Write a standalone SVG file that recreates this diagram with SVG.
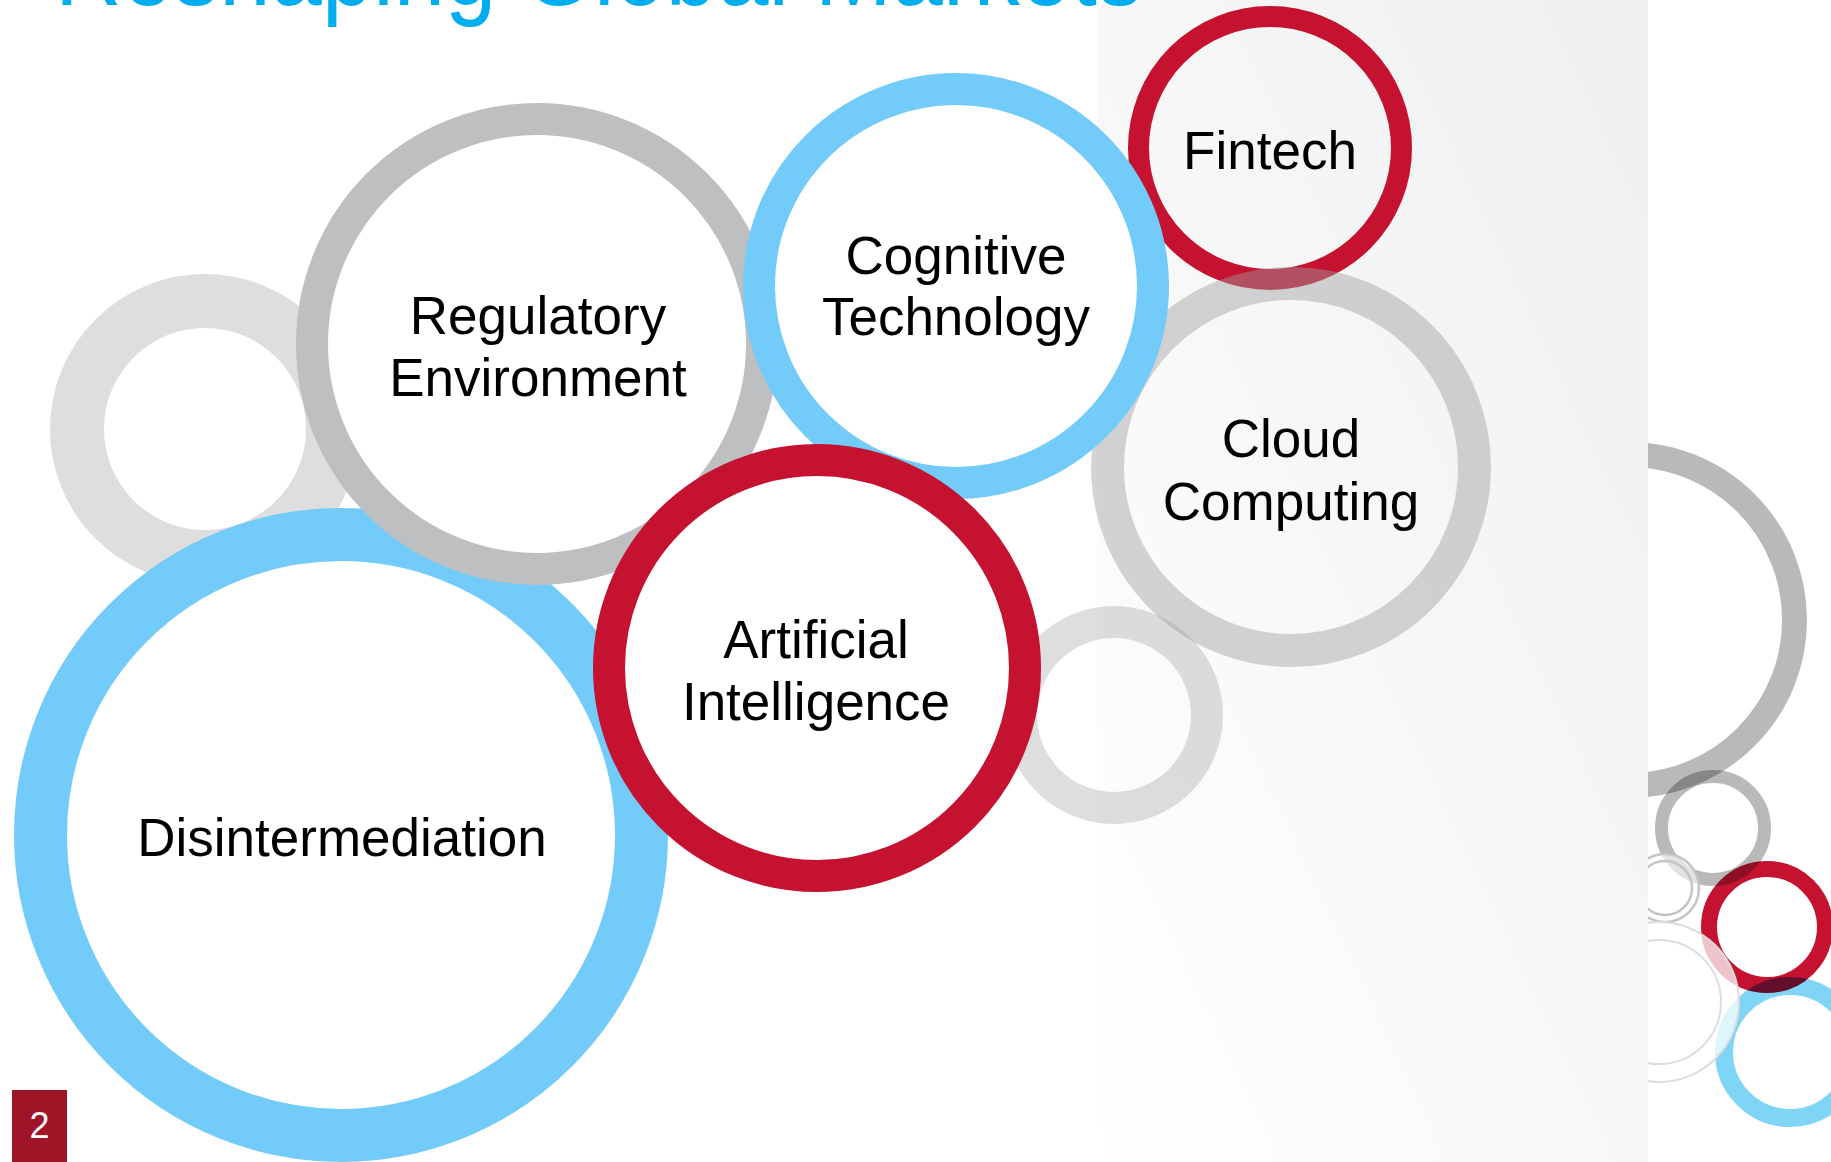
<svg xmlns="http://www.w3.org/2000/svg" width="1831" height="1162" viewBox="0 0 1831 1162">
  <style>
    .lbl { font-family: "Liberation Sans", Arial, sans-serif; font-size: 53px; fill: #000000; text-anchor: middle; }
    .ring { fill: none; }
    .solid { fill: #ffffff; }
    .red { stroke: #c41230; }
    .blue { stroke: #72cbf8; }
    .mul { mix-blend-mode: multiply; }
  </style>
  <defs>
    <linearGradient id="panelGrad" x1="0" y1="1" x2="1" y2="0">
      <stop offset="0" stop-color="#ffffff"/>
      <stop offset="0.45" stop-color="#f8f8f8"/>
      <stop offset="1" stop-color="#eeefef"/>
    </linearGradient>
    <clipPath id="rightClip">
      <rect x="1648" y="0" width="183" height="1162"/>
    </clipPath>
  </defs>

  <rect x="0" y="0" width="1831" height="1162" fill="#ffffff"/>
  <rect id="panel" x="1097" y="0" width="551" height="1162" fill="url(#panelGrad)"/>

  <text x="55" y="5" font-family="Liberation Sans, Arial, sans-serif" font-size="108" fill="#00aeef" textLength="1088" lengthAdjust="spacingAndGlyphs">Reshaping Global Markets</text>

  <g id="deco-left-ring">
    <circle cx="205" cy="429" r="128" fill="#ffffff" stroke="#dedede" stroke-width="54"/>
  </g>

  <g id="node-disintermediation">
    <circle cx="341" cy="835" r="300.5" class="solid blue" stroke-width="53"/>
    <text class="lbl" x="342" y="856">Disintermediation</text>
  </g>

  <g id="node-regulatory">
    <circle cx="537" cy="344" r="225" class="solid" stroke="#bebfc1" stroke-width="32"/>
    <text class="lbl" x="538" y="334">Regulatory</text>
    <text class="lbl" x="538" y="396">Environment</text>
  </g>

  <g id="node-fintech">
    <circle cx="1270" cy="148" r="131.5" class="ring red" stroke-width="21"/>
    <text class="lbl" x="1270" y="169">Fintech</text>
  </g>

  <g id="node-cloud">
    <circle cx="1291" cy="467" r="183.5" class="ring" stroke="#a0a0a0" stroke-opacity="0.45" stroke-width="33"/>
    <text class="lbl" x="1291" y="457">Cloud</text>
    <text class="lbl" x="1291" y="520">Computing</text>
  </g>

  <g id="deco-small-ring">
    <circle cx="1114" cy="715" r="93" fill="none" stroke="#a0a0a0" stroke-opacity="0.35" stroke-width="32"/>
  </g>

  <g id="node-cognitive">
    <circle cx="956" cy="286" r="197" class="solid blue" stroke-width="32"/>
    <text class="lbl" x="956" y="274">Cognitive</text>
    <text class="lbl" x="956" y="335">Technology</text>
  </g>

  <g id="node-ai">
    <circle cx="817" cy="668" r="208" class="solid red" stroke-width="32"/>
    <text class="lbl" x="816" y="658">Artificial</text>
    <text class="lbl" x="816" y="720">Intelligence</text>
  </g>

  <g id="deco-right" clip-path="url(#rightClip)">
    <circle class="mul" cx="1629" cy="620" r="165.5" fill="none" stroke="#b9b9b9" stroke-width="25"/>
    <circle class="mul" cx="1713" cy="828" r="51.5" fill="none" stroke="#b9b9b9" stroke-width="13"/>
    <circle cx="1665" cy="888" r="34" fill="#ffffff" fill-opacity="0.6" stroke="#c4c4c4" stroke-width="2.5"/>
    <circle cx="1665" cy="888" r="27" fill="none" stroke="#c4c4c4" stroke-width="2.5"/>
    <circle class="mul" cx="1767" cy="927" r="58" fill="none" stroke="#c41230" stroke-width="16"/>
    <circle class="mul" cx="1790" cy="1052" r="66" fill="none" stroke="#7fd5f5" stroke-width="18"/>
    <circle cx="1659" cy="1002" r="80" fill="#ffffff" fill-opacity="0.75" stroke="#dcdcdc" stroke-width="2"/>
    <circle cx="1659" cy="1002" r="62" fill="none" stroke="#dcdcdc" stroke-width="2"/>
  </g>

  <g id="connectors"/>

  <g id="page-number">
    <rect x="12" y="1090" width="55" height="72" fill="#a01428"/>
    <text x="39.5" y="1138" font-family="Liberation Sans, Arial, sans-serif" font-size="36" fill="#ffffff" text-anchor="middle">2</text>
  </g>
</svg>
